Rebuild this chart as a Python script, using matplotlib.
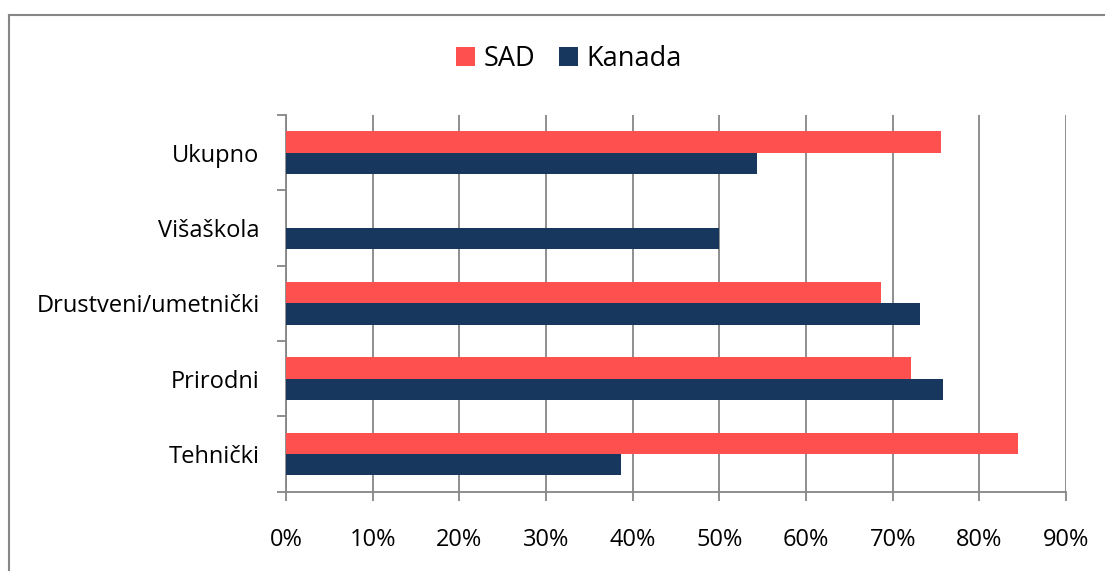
import matplotlib
matplotlib.use("Agg")
import matplotlib.pyplot as plt
import numpy as np
from matplotlib.lines import Line2D
from matplotlib.ticker import FixedLocator

categories = ["Tehnički", "Prirodni", "Drustveni/umetnički", "Višaškola", "Ukupno"]
sad = [84.5, 72.1, 68.7, 0.0, 75.6]
kanada = [38.7, 75.8, 73.1, 50.0, 54.4]
series_names = ["SAD", "Kanada"]
xticks = [0, 10, 20, 30, 40, 50, 60, 70, 80, 90]

plt.rcParams['font.family'] = ['Open Sans', 'DejaVu Sans']

RED = "#FF5050"
NAVY = "#17375E"
GRAY = "#868686"

fig = plt.figure(figsize=(11.05, 5.71), dpi=100)
ax = fig.add_axes([286/1105, 1 - 491.5/571, 780/1105, 376.5/571])

y = np.arange(len(categories))
h = 0.283
b1 = ax.barh(y + h/2, sad, height=h, color=RED, zorder=3, label=series_names[0])
b2 = ax.barh(y - h/2, kanada, height=h, color=NAVY, zorder=3, label=series_names[1])

ax.set_xlim(0, 90)
ax.set_ylim(-0.5, len(categories) - 0.5)
ax.set_xticks(xticks)
ax.set_xticklabels([f"{v}%" for v in xticks])
ax.set_yticks(y)
ax.set_yticklabels(categories)
ax.yaxis.set_minor_locator(FixedLocator(np.arange(-0.5, len(categories), 1.0)))

ax.grid(axis='x', color=GRAY, linewidth=1.3, zorder=0)
ax.tick_params(axis='y', which='major', length=0, pad=19, labelsize=17)
ax.tick_params(axis='y', which='minor', length=6.5, width=1.3, color=GRAY, direction='out')
ax.tick_params(axis='x', which='major', length=6.5, width=1.3, color=GRAY, direction='out', pad=20, labelsize=17)

for s in ['top', 'right']:
    ax.spines[s].set_visible(False)
for s in ['left', 'bottom']:
    ax.spines[s].set_color(GRAY)
    ax.spines[s].set_linewidth(1.3)

fig.legend(handles=[b1, b2], labels=series_names, loc='center', bbox_to_anchor=(569/1105, 1 - 59/571),
           ncol=2, frameon=False, fontsize=19.5, handlelength=0.7, handleheight=0.7,
           handletextpad=0.3, columnspacing=0.9)

# chart-area border (left and top edges visible)
fig.add_artist(Line2D([9/1105, 1.0], [1 - 15/571, 1 - 15/571], color=GRAY, linewidth=1.5, transform=fig.transFigure))
fig.add_artist(Line2D([9/1105, 9/1105], [0.0, 1 - 15/571], color=GRAY, linewidth=1.5, transform=fig.transFigure))

fig.savefig("out.png", dpi=100)
